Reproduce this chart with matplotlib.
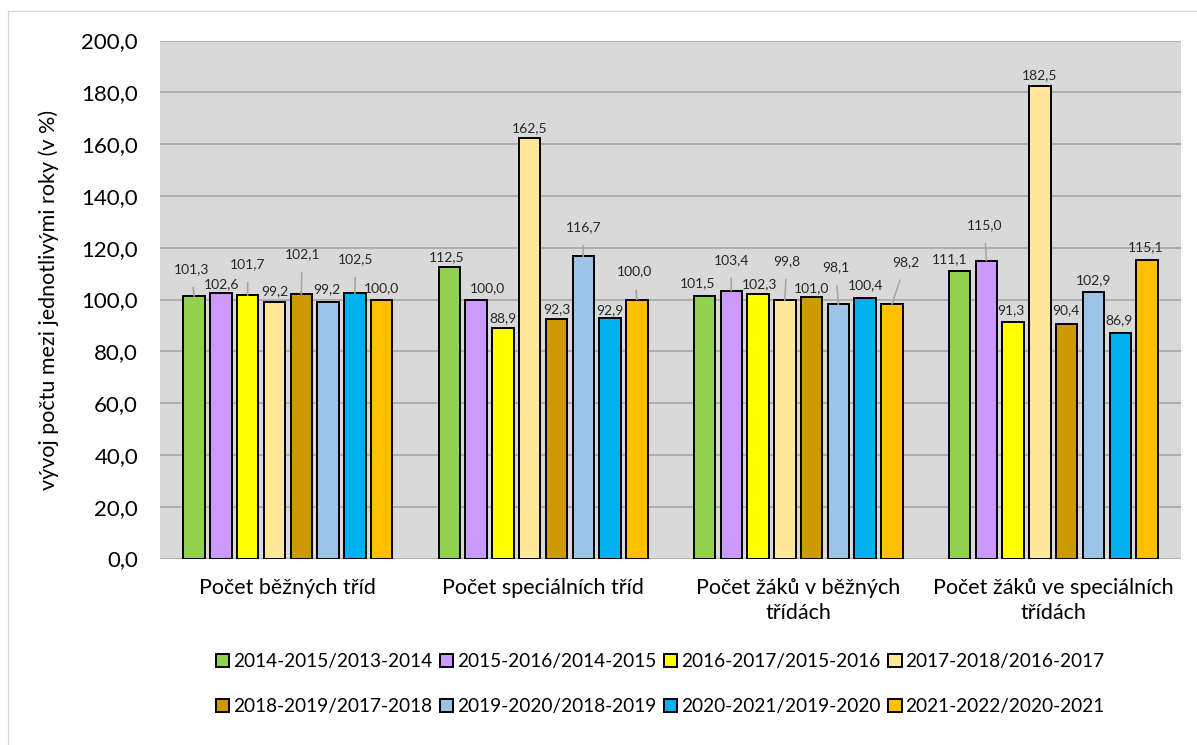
import matplotlib
matplotlib.use("Agg")
import matplotlib.pyplot as plt
import numpy as np
from matplotlib.patches import Rectangle

plt.rcParams["font.family"] = ["Lato", "DejaVu Sans"]

categories = ["Počet běžných tříd", "Počet speciálních tříd",
              "Počet žáků v běžných\ntřídách", "Počet žáků ve speciálních\ntřídách"]
series = ["2014-2015/2013-2014", "2015-2016/2014-2015", "2016-2017/2015-2016",
          "2017-2018/2016-2017", "2018-2019/2017-2018", "2019-2020/2018-2019",
          "2020-2021/2019-2020", "2021-2022/2020-2021"]
# values[series][category]
values = [
    [101.3, 112.5, 101.5, 111.1],
    [102.6, 100.0, 103.4, 115.0],
    [101.7, 88.9, 102.3, 91.3],
    [99.2, 162.5, 99.8, 182.5],
    [102.1, 92.3, 101.0, 90.4],
    [99.2, 116.7, 98.1, 102.9],
    [102.5, 92.9, 100.4, 86.9],
    [100.0, 100.0, 98.2, 115.1],
]
colors = ["#92D050", "#CC99FF", "#FFFF00", "#FFE699",
          "#CC9900", "#9DC3E6", "#00B0F0", "#FFC000"]

# label offsets (pixels, dx, dy above bar top) and whether a leader line is drawn
label_off = [
    [(-3, 27, 1), (-3, 10, 0), (-7, 12, 0), (-10, 12, 0)],
    [(1, 9, 0), (11, 11, 0), (0, 31, 1), (-2, 36, 1)],
    [(0, 31, 1), (0, 10, 0), (2, 9, 0), (-2, 12, 0)],
    [(0, 10, 0), (0, 9, 0), (2, 39, 1), (0, 11, 0)],
    [(1, 40, 1), (0, 10, 0), (0, 9, 0), (-1, 14, 0)],
    [(-1, 12, 0), (0, 29, 1), (-3, 37, 1), (0, 12, 0)],
    [(1, 34, 1), (0, 8, 0), (0, 13, 0), (-1, 13, 0)],
    [(0, 11, 0), (-2, 28, 1), (14, 42, 1), (-1, 13, 0)],
]

fig = plt.figure(figsize=(11.97, 7.45), dpi=100)
fig.patches.append(Rectangle((8 / 1197, -0.05), 1.2, 0.05 + 1 - 11 / 745,
                             transform=fig.transFigure, fill=False,
                             edgecolor="#D9D9D9", linewidth=1))
ax = fig.add_axes([0.1339, 0.2503, 0.8527, 0.6953])
ax.set_facecolor("#D9D9D9")

x = np.arange(len(categories))
slot = 0.105
width = 0.084
for i, (name, vals) in enumerate(zip(series, values)):
    xs = x + (i - 3.5) * slot
    ax.bar(xs, vals, width=width, color=colors[i], edgecolor="black",
           linewidth=1.4, label=name, zorder=3)
    for xi, v, (dx, dy, lead) in zip(xs, vals, label_off[i]):
        ax.annotate(f"{v:.1f}".replace(".", ","), (xi, v), xytext=(dx, dy),
                    textcoords="offset pixels", ha="center", va="center",
                    fontsize=10, color="#262626", zorder=5,
                    arrowprops=dict(arrowstyle="-", color="#A6A6A6", lw=1.2,
                                    shrinkA=7, shrinkB=0) if lead else None)

ax.set_xlim(-0.5, len(categories) - 0.5)
ax.set_ylim(0, 200)
ax.set_yticks(np.arange(0, 201, 20))
ax.set_yticklabels([f"{t:.1f}".replace(".", ",") for t in np.arange(0, 201, 20)],
                   fontsize=16)
ax.set_xticks(x)
ax.set_xticklabels(categories, fontsize=15.5, linespacing=1.3)
ax.tick_params(axis="x", length=0, pad=14)
ax.tick_params(axis="y", length=0, pad=16)
ax.grid(axis="y", color="#A6A6A6", linewidth=1.2, zorder=0)
ax.set_axisbelow(True)
for s in ax.spines.values():
    s.set_visible(False)
ax.set_ylabel("vývoj počtu mezi jednotlivými roky (v %)", fontsize=15.5, labelpad=16)

h, l = ax.get_legend_handles_labels()
order = [0, 4, 1, 5, 2, 6, 3, 7]
ax.legend([h[k] for k in order], [l[k] for k in order], ncol=4, frameon=False,
          loc="upper center", bbox_to_anchor=(0.49, -0.15), fontsize=13.7,
          handlelength=0.7, handleheight=0.7, handletextpad=0.2,
          columnspacing=0.4, labelspacing=1.45)

fig.savefig("out.png", dpi=100)
